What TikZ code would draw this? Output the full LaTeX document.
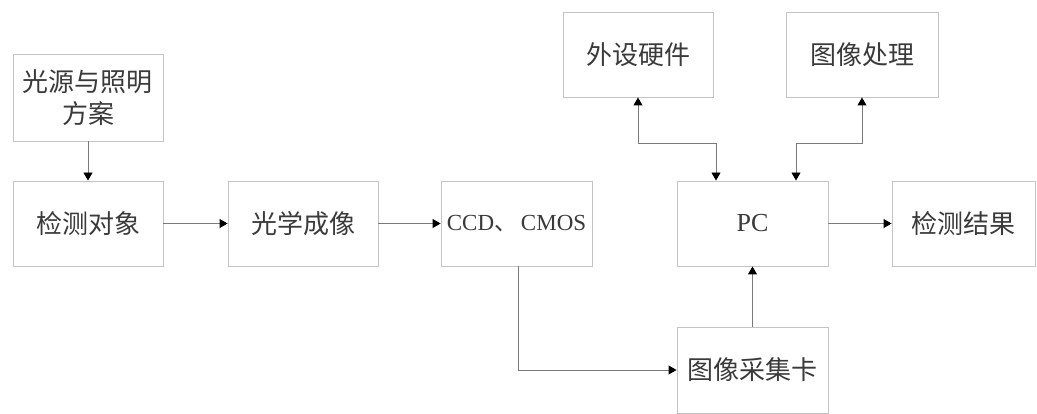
\documentclass[tikz,border=0pt]{standalone}
\usepackage{fontspec}
\setmainfont{Liberation Serif}
\newfontfamily\cjk{Noto Sans CJK SC}
\usetikzlibrary{arrows.meta}
\definecolor{boxline}{HTML}{C4C4C4}
\definecolor{txt}{HTML}{3A3A3A}
\definecolor{conn}{HTML}{7A7A7A}
\tikzset{
  blk/.style={draw=boxline, line width=0.9pt, rectangle, minimum width=150pt, minimum height=85pt, inner sep=0pt, text=txt, align=center},
  zh/.style={font=\cjk\fontsize{26}{32}\selectfont},
  conn/.style={draw=conn, line width=0.9pt, -{Triangle[length=8pt,width=9pt,color=black]}},
  bconn/.style={draw=conn, line width=0.9pt, {Triangle[length=8pt,width=9pt,color=black]}-{Triangle[length=8pt,width=9pt,color=black]}}
}
\begin{document}
\begin{tikzpicture}[x=1pt,y=-1pt]
\useasboundingbox (0,0) rectangle (1037,414);
\fill[white] (0,0) rectangle (1037,414);
\node[blk,zh,minimum height=87pt,text width=140pt] (src) at (88,97.5) {光源与照明\\方案};
\node[blk,zh] (obj) at (88,223.5) {检测对象};
\node[blk,zh] (opt) at (303,223.5) {光学成像};
\node[blk,minimum width=151pt,font=\fontsize{23}{27}\selectfont] (ccd) at (516.5,223.5) {CCD{\cjk 、}\,CMOS};
\node[blk,minimum width=151pt,font=\fontsize{26}{30}\selectfont] (pc) at (752.5,223.5) {PC};
\node[blk,zh,minimum width=143pt] (res) at (963.5,223.5) {检测结果};
\node[blk,zh] (hw) at (638,54.5) {外设硬件};
\node[blk,zh,minimum width=152pt] (ip) at (862,54.5) {图像处理};
\node[blk,zh,minimum width=151pt,minimum height=86pt] (card) at (752.5,370) {图像采集卡};
\draw[conn] (src.south) -- (obj.north);
\draw[conn] (obj.east) -- (opt.west);
\draw[conn] (opt.east) -- (ccd.west);
\draw[conn] ([xshift=1.5pt]ccd.south) |- (card.west);
\draw[conn] (card.north) -- (pc.south);
\draw[conn] (pc.east) -- (res.west);
\draw[bconn] (hw.south) -- ++(0,46) -| ([xshift=-36.5pt]pc.north);
\draw[bconn] (ip.south) -- ++(0,46) -| ([xshift=43.5pt]pc.north);
\end{tikzpicture}
\end{document}
